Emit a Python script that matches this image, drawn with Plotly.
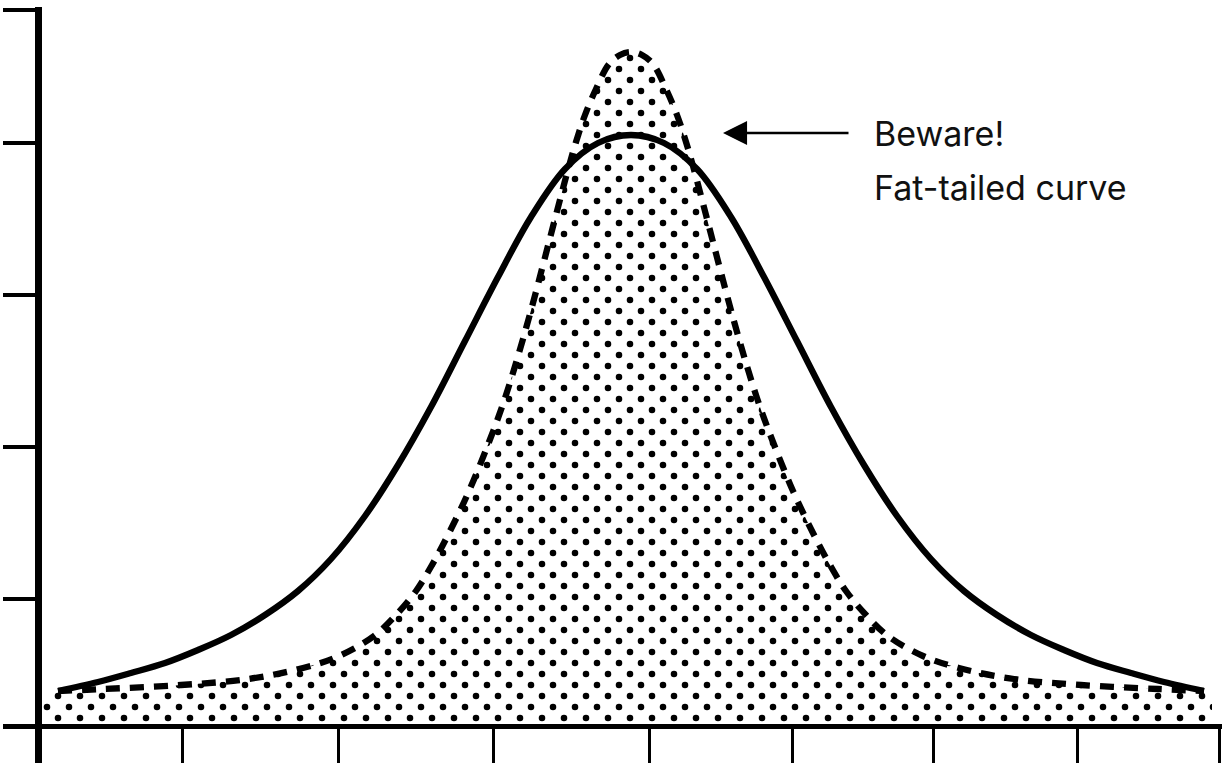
import plotly.graph_objects as go

# ---- data ----
# thin-tailed (normal) curve, solid line
normal_x = [16, 56, 89, 123, 156, 189, 223, 256, 289, 323, 356, 389, 423, 456, 489, 523, 556,
            589, 622, 655, 689, 722, 755, 789, 822, 855, 889, 922, 955, 989, 1022, 1055, 1089,
            1122, 1162]
normal_y = [33, 42, 51, 61, 74, 89, 109, 133, 165, 208, 259, 317, 383, 447, 507, 555, 581,
            589, 581, 555, 507, 447, 383, 317, 259, 208, 165, 133, 109, 89, 74, 61, 51,
            42, 33]

# fat-tailed curve, dashed line with dotted fill
fat_x = [16, 62, 139, 206, 261, 297, 332, 354, 374, 390, 407, 427, 447, 461, 474, 488, 501,
         514, 527, 534, 543, 554, 567, 578, 589, 600, 611, 624, 635, 644, 651, 664, 677, 690,
         704, 717, 731, 751, 771, 788, 804, 824, 846, 881, 917, 972, 1039, 1116, 1162]
fat_y = [33, 35, 39, 45, 56, 68, 88, 109, 133, 159, 191, 233, 282, 320, 361, 410, 459,
         509, 558, 582, 609, 635, 660, 669, 672, 669, 660, 635, 609, 582, 558, 509, 459, 410,
         361, 320, 282, 233, 191, 159, 133, 109, 88, 68, 56, 45, 39, 35, 33]
fill_x_start = 1
fill_x_end = 1170

x_tick_vals = [140, 296, 451, 607, 750, 891, 1035, 1177]
y_tick_vals = [125, 277, 429, 581, 714.5]

label_lines = ["Beware!", "Fat-tailed curve"]
label_x = 830
label_y = [591, 537]
arrow_tip = (681, 591)
arrow_len_px = 127

# ---- figure geometry ----
W, H = 1225, 763
M_R, M_B = 3, 39
PW, PH = W - M_R, H - M_B  # paper size in px

fig = go.Figure()

fill_x = [fill_x_start] + fat_x + [fill_x_end]
fill_y = [fat_y[0]] + fat_y + [fat_y[-1]]

dot_pattern = dict(shape=".", size=22, solidity=0.07, fgcolor="#000000",
                   bgcolor="rgba(0,0,0,0)", fgopacity=1)

# two staggered dot layers (offset subplots give a half-step shifted pattern)
for xa, ya in (("x2", "y2"), ("x3", "y3")):
    fig.add_trace(go.Scatter(
        x=fill_x, y=fill_y, xaxis=xa, yaxis=ya, mode="lines",
        line=dict(width=0, color="rgba(0,0,0,0)", shape="spline", smoothing=1),
        fill="tozeroy", fillcolor="rgba(0,0,0,0)", fillpattern=dot_pattern,
        hoverinfo="skip", showlegend=False))

fig.add_trace(go.Scatter(
    x=normal_x, y=normal_y, mode="lines",
    line=dict(color="#000", width=6.3, shape="spline", smoothing=1),
    showlegend=False, hoverinfo="skip"))
fig.add_trace(go.Scatter(
    x=fat_x, y=fat_y, mode="lines",
    line=dict(color="#000", width=6.3, dash="14px,10px", shape="spline", smoothing=1),
    showlegend=False, hoverinfo="skip"))

plot_left, plot_top = 42, 7
main_xrange = [0, PW - plot_left]
main_yrange = [0, PH - plot_top]


def hidden_axes(ox, oy):
    return (dict(domain=[ox / PW, 1], range=[ox - plot_left, main_xrange[1]], visible=False,
                 fixedrange=True),
            dict(domain=[0, (PH - oy) / PH], range=[0, PH - oy], visible=False, fixedrange=True))


xa2, ya2 = hidden_axes(47, 25)
xa3, ya3 = hidden_axes(36, 14)
xa2["anchor"], ya2["anchor"] = "y2", "x2"
xa3["anchor"], ya3["anchor"] = "y3", "x3"

annotations = [
    dict(x=arrow_tip[0], y=arrow_tip[1], xref="x", yref="y", text="", showarrow=True,
         ax=arrow_len_px, ay=0, arrowhead=2, arrowsize=1.85, arrowwidth=2.6, arrowcolor="#000",
         standoff=0),
]
for txt, ly in zip(label_lines, label_y):
    annotations.append(dict(x=label_x, y=ly, xref="x", yref="y", text=txt, showarrow=False,
                            xanchor="left", yanchor="middle",
                            font=dict(family="Inter, Roboto, sans-serif", size=34, color="#111111")))

shapes = [
    # y-axis continues below the x-axis
    dict(type="line", xref="paper", yref="paper", x0=38.5 / PW, x1=38.5 / PW, y0=0, y1=-(H - PH) / PH,
         line=dict(color="#000", width=7)),
    # x-axis continues left of the y-axis
    dict(type="line", xref="paper", yref="paper", x0=3 / PW, x1=plot_left / PW,
         y0=-2.5 / PH, y1=-2.5 / PH, line=dict(color="#000", width=5)),
]

fig.update_layout(
    template="none",
    width=W, height=H,
    margin=dict(l=0, r=M_R, t=0, b=M_B, pad=0),
    paper_bgcolor="white", plot_bgcolor="rgba(0,0,0,0)",
    showlegend=False,
    xaxis=dict(domain=[plot_left / PW, 1], range=main_xrange, showline=True, linewidth=5,
               linecolor="#000", ticks="outside", ticklen=36, tickwidth=3, tickcolor="#000",
               tickvals=x_tick_vals, showticklabels=False, showgrid=False, zeroline=False,
               fixedrange=True),
    yaxis=dict(domain=[0, (PH - plot_top) / PH], range=main_yrange, showline=True, linewidth=7,
               linecolor="#000", ticks="outside", ticklen=32, tickwidth=4, tickcolor="#000",
               tickvals=y_tick_vals, showticklabels=False, showgrid=False, zeroline=False,
               fixedrange=True),
    xaxis2=xa2, yaxis2=ya2, xaxis3=xa3, yaxis3=ya3,
    annotations=annotations, shapes=shapes,
)

fig.write_html("out.html", config={"displayModeBar": False},
               post_script="document.body.style.margin='0px';")
